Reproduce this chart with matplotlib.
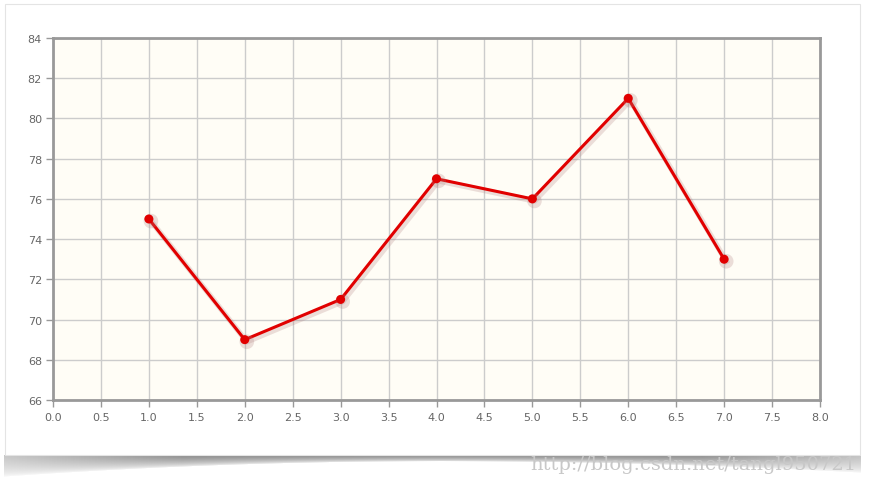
import matplotlib
matplotlib.use("Agg")
import matplotlib.pyplot as plt
import matplotlib.patheffects as pe
from matplotlib.patches import Rectangle
import numpy as np

x_vals = [1, 2, 3, 4, 5, 6, 7]
y_vals = [75, 69, 71, 77, 76, 81, 73]
x_ticks = [0.0, 0.5, 1.0, 1.5, 2.0, 2.5, 3.0, 3.5, 4.0, 4.5, 5.0, 5.5, 6.0, 6.5, 7.0, 7.5, 8.0]
y_ticks = [66, 68, 70, 72, 74, 76, 78, 80, 82, 84]

W, H = 873, 485
fig = plt.figure(figsize=(W / 100, H / 100), dpi=100)
fig.patch.set_facecolor("white")

# background with curled card shadow
bg = fig.add_axes([0, 0, 1, 1], zorder=0)
bg.set_axis_off()
img = np.ones((H, W, 4))
img[..., 3] = 0
card_bottom = 456
for xp in range(4, 861):
    u = (xp - 440) / 430.0
    depth = 6 + (15 if u < 0 else 12) * u ** 2
    shade = 0.5 if abs(u) < 0.6 else 0.5 + 0.25 * (abs(u) - 0.6) / 0.4
    for t in range(0, int(np.ceil(depth)) + 1):
        yp = card_bottom + t
        if yp >= H:
            break
        f = max(0.0, 1 - t / depth)
        img[yp, xp, :3] = shade
        img[yp, xp, 3] = 0.9 * f ** 0.6
bg.imshow(img, extent=(0, W, H, 0), aspect="auto", interpolation="bilinear")
bg.set_xlim(0, W)
bg.set_ylim(H, 0)

# card
card = Rectangle((5 / W, (485 - 456) / H), 855 / W, 451 / H, transform=fig.transFigure,
                 facecolor="white", edgecolor="#e4e4e4", linewidth=0.8, zorder=1)
fig.patches.append(card)

ax = fig.add_axes([53 / W, (485 - 401) / H, (820 - 53) / W, (401 - 39) / H])
ax.set_zorder(2)
ax.set_facecolor("#fffdf6")
ax.set_xlim(0, 8)
ax.set_ylim(66, 84)
ax.set_xticks(x_ticks)
ax.set_xticklabels([f"{v:.1f}" for v in x_ticks])
ax.set_yticks(y_ticks)
ax.set_yticklabels([str(v) for v in y_ticks])
ax.grid(True, color="#cccccc", linewidth=1)
ax.set_axisbelow(True)
for s in ax.spines.values():
    s.set_color("#999999")
    s.set_linewidth(2)
ax.tick_params(axis="both", direction="out", length=5, width=1, color="#999999",
               labelcolor="#666666", labelsize=8, pad=3)
ax.tick_params(axis="x", pad=4)

ax.plot(x_vals, y_vals, color="#e10000", linewidth=2.2, marker="o", markersize=6.5,
        markeredgewidth=0, solid_joinstyle="round", zorder=3,
        path_effects=[pe.SimpleLineShadow(offset=(1.5, -1.5), shadow_color="#b08080", alpha=0.25, linewidth=4),
                      pe.Normal()], clip_on=False)

fig.text(530 / W, (485 - 465) / H, "http://blog.csdn.net/tangl950721", fontsize=14,
         family="DejaVu Serif", color="#c8c8c8", va="center", ha="left", zorder=5)

fig.savefig("out.png", dpi=100, facecolor="white")
